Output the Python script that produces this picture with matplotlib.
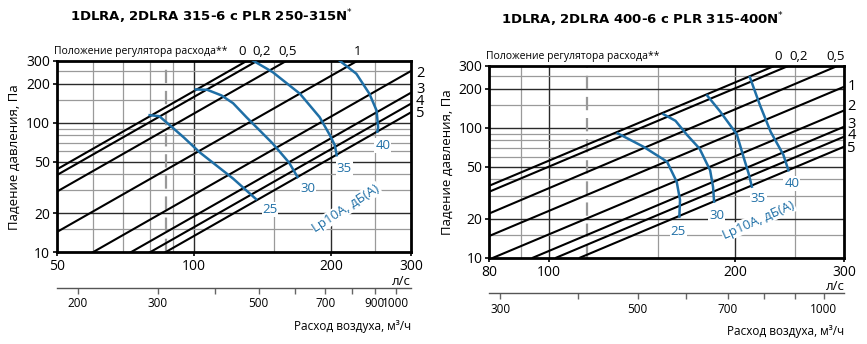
import matplotlib.pyplot as plt
import matplotlib.ticker as mticker
from matplotlib.transforms import blended_transform_factory

plt.rcParams['font.family'] = ['Open Sans', 'DejaVu Sans']

BLUE = '#1f6fa6'

# ---------------- left chart: 1DLRA, 2DLRA 315-6 ----------------
title_l = '1DLRA, 2DLRA 315-6 c PLR 250-315N$^{*}$'
xlim_l = (50, 300)
xticks_l = [50, 100, 200, 300]
xgrid_major_l = [100, 200]
xgrid_minor_l = [60, 70, 80, 90, 150, 250]
m3h_ticks_l = [200, 300, 400, 500, 600, 700, 800, 900, 1000]
m3h_labels_l = ['200', '300', '', '500', '', '700', '', '900', '1000']
dashed_l = 86.8

# damper position lines (start / end points, l/s and Pa)
q_start_l = [50, 50, 50, 50, 60, 72.7, 80.1, 86.6]
dp_start_l = [43.5, 39.3, 29.3, 14.3, 10, 10, 10, 10]
q_end_l = [131, 138, 160, 229, 300, 300, 300, 300]
dp_end_l = [300, 300, 300, 300, 250, 170, 140, 120]
# labels of the positions: on top (by flow) and at right (by pressure)
top_pos_l = ['0', '0,2', '0,5', '1']
top_pos_q_l = [127.9, 141, 160.5, 229]
right_pos_l = ['2', '3', '4', '5']
right_pos_dp_l = [238, 179.5, 145.9, 117.2]

lp_l = ['25', '30', '35', '40']
lp_q_l = [[80, 84, 89, 95, 103, 122, 137],
          [101, 107, 115, 122, 130.5, 140, 149, 162, 169],
          [135, 149, 171, 189, 199, 204, 206],
          [209, 227.5, 243, 252, 254, 253]]
lp_dp_l = [[114, 112, 94, 77, 59, 37, 25.7],
           [180, 179, 162, 141, 110, 86, 69, 49, 38],
           [300, 245, 167, 110, 80, 67, 56],
           [300, 238, 167, 124, 92, 85]]
lp_lab_q_l = [147, 178, 214, 260]
lp_lab_dp_l = [21.4, 31.1, 44.3, 66.9]

# ---------------- right chart: 1DLRA, 2DLRA 400-6 ----------------
title_r = '1DLRA, 2DLRA 400-6 c PLR 315-400N$^{*}$'
xlim_r = (80, 300)
xticks_r = [80, 100, 200, 300]
xgrid_major_r = [100, 200]
xgrid_minor_r = [90, 150, 250]
m3h_ticks_r = [300, 400, 500, 600, 700, 800, 900, 1000]
m3h_labels_r = ['300', '', '500', '', '700', '', '', '1000']
dashed_r = 115

q_start_r = [80, 80, 80, 80, 81.2, 94.1, 102.6, 112.1]
dp_start_r = [35.8, 32.2, 21.9, 14.7, 10, 10, 10, 10]
q_end_r = [231.6, 244, 293, 300, 300, 300, 300, 300]
dp_end_r = [300, 300, 300, 207, 136, 102, 85.5, 71.6]
top_pos_r = ['0', '0,2', '0,5']
top_pos_q_r = [234.7, 253.2, 290.6]
right_pos_r = ['1', '2', '3', '4', '5']
right_pos_dp_r = [206.5, 145, 106.8, 87.1, 69.8]

lp_r = ['25', '30', '35', '40']
lp_q_r = [[129, 142, 155, 160.7, 162.7, 162.3],
          [153, 160, 167, 175, 182, 184, 184.7],
          [180, 189, 201, 206, 210, 212.6],
          [211, 219, 228, 239, 243.6]]
lp_dp_r = [[90.5, 71.4, 54.8, 38.4, 27.8, 20.7],
           [127, 113, 88, 69, 47, 35, 27],
           [177, 133, 89, 60, 44.6, 35.2],
           [245, 150, 93, 62, 47]]
lp_lab_q_r = [161.7, 186.5, 217.8, 246.6]
lp_lab_dp_r = [15.8, 21.3, 28.3, 37.3]

yticks = [10, 20, 50, 100, 200, 300]
ygrid_major = [20, 50, 100, 200]
ygrid_minor = [15, 30, 40, 60, 70, 80, 90, 150, 250]


def draw_panel(ax, xlim, xticks, xg_major, xg_minor, m3h_ticks, m3h_labels, dashed,
               q1, dp1, q2, dp2, top_pos, top_q, right_pos, right_dp,
               lp, lp_q, lp_dp, lab_q, lab_dp, unit_xy, unit_rot, right_dx):
    ax.set_xscale('log')
    ax.set_yscale('log')
    ax.set_xlim(*xlim)
    ax.set_ylim(10, 300)

    # grid
    for v in xg_minor:
        ax.axvline(v, color='#9a9a9a', lw=0.9, zorder=0)
    for v in xg_major:
        ax.axvline(v, color='#2a2a2a', lw=1.0, zorder=0)
    for v in ygrid_minor:
        ax.axhline(v, color='#9a9a9a', lw=0.9, zorder=0)
    for v in ygrid_major:
        ax.axhline(v, color='#2a2a2a', lw=1.0, zorder=0)
    ax.axvline(dashed, color='#999999', lw=1.6, dashes=(6, 3.5), zorder=1)

    # damper position lines
    for i in range(len(q1)):
        ax.plot([q1[i], q2[i]], [dp1[i], dp2[i]], color='black', lw=1.5, zorder=2)
    tr_top = blended_transform_factory(ax.transData, ax.transAxes)
    tr_right = blended_transform_factory(ax.transAxes, ax.transData)
    for lab, q in zip(top_pos, top_q):
        ax.text(q, 1.047, lab, transform=tr_top, ha='center', va='center', fontsize=9.5)
    for lab, dp in zip(right_pos, right_dp):
        ax.text(1 + right_dx, dp, lab, transform=tr_right, ha='left', va='center',
                fontsize=10.5)

    # sound level curves
    for i in range(len(lp)):
        ax.plot(lp_q[i], lp_dp[i], color=BLUE, lw=1.8, zorder=3)
        ax.text(lab_q[i], lab_dp[i], lp[i], color=BLUE, fontsize=9.5, ha='center',
                va='center', zorder=4,
                bbox=dict(facecolor='white', edgecolor='none', pad=0.6))
    ax.text(unit_xy[0], unit_xy[1], 'Lp10A, дБ(A)', color=BLUE, fontsize=9.5,
            rotation=unit_rot, ha='center', va='center', rotation_mode='anchor', zorder=4,
            bbox=dict(facecolor='white', edgecolor='none', pad=0.6))

    ax.set_xticks(xticks, [str(v) for v in xticks])
    ax.set_yticks(yticks, [str(v) for v in yticks])
    ax.xaxis.set_minor_locator(mticker.NullLocator())
    ax.yaxis.set_minor_locator(mticker.NullLocator())
    ax.tick_params(direction='out', length=3, width=1.2, labelsize=10, pad=2)
    for s in ax.spines.values():
        s.set_linewidth(2)

    ax.text(-0.008, 1.047, 'Положение регулятора расхода**', transform=ax.transAxes,
            ha='left', va='center', fontsize=7.5)
    ax.text(1.0, -0.15, 'л/с', transform=ax.transAxes, ha='right', va='center',
            fontsize=9.5)
    ax.text(1.0, -0.385, 'Расход воздуха, м³/ч', transform=ax.transAxes, ha='right',
            va='center', fontsize=8.5)

    sec = ax.secondary_xaxis(-0.185, functions=(lambda q: q * 3.6, lambda m: m / 3.6))
    sec.set_xticks(m3h_ticks, m3h_labels)
    sec.xaxis.set_minor_locator(mticker.NullLocator())
    sec.xaxis.set_minor_formatter(mticker.NullFormatter())
    sec.tick_params(direction='out', length=4, width=1, color='#666666', labelsize=8.5,
                    pad=3)
    sec.spines['bottom'].set_linewidth(1)
    sec.spines['bottom'].set_color('#555555')


fig = plt.figure(figsize=(8.67, 3.44), dpi=100)
ax_l = fig.add_axes([0.0654, 0.2666, 0.4087, 0.557])
ax_r = fig.add_axes([0.5644, 0.2509, 0.4095, 0.5581])

draw_panel(ax_l, xlim_l, xticks_l, xgrid_major_l, xgrid_minor_l, m3h_ticks_l, m3h_labels_l,
           dashed_l, q_start_l, dp_start_l, q_end_l, dp_end_l,
           top_pos_l, top_pos_q_l, right_pos_l, right_pos_dp_l,
           lp_l, lp_q_l, lp_dp_l, lp_lab_q_l, lp_lab_dp_l, (216, 21.9), 33, 0.014)
draw_panel(ax_r, xlim_r, xticks_r, xgrid_major_r, xgrid_minor_r, m3h_ticks_r, m3h_labels_r,
           dashed_r, q_start_r, dp_start_r, q_end_r, dp_end_r,
           top_pos_r, top_pos_q_r, right_pos_r, right_pos_dp_r,
           lp_r, lp_q_r, lp_dp_r, lp_lab_q_r, lp_lab_dp_r, (217.8, 19.5), 24, 0.008)

fig.text(212 / 867, 1 - 17 / 344, title_l, ha='center', va='center', fontsize=9.5,
         fontweight='bold', family='DejaVu Sans')
fig.text(643 / 867, 1 - 20 / 344, title_r, ha='center', va='center', fontsize=9.5,
         fontweight='bold', family='DejaVu Sans')
fig.text(14 / 867, 1 - 157 / 344, 'Падение давления, Па', rotation=90, ha='center',
         va='center', fontsize=9.5)
fig.text(447 / 867, 1 - 162 / 344, 'Падение давления, Па', rotation=90, ha='center',
         va='center', fontsize=9.5)

fig.savefig('out.png', dpi=100)
